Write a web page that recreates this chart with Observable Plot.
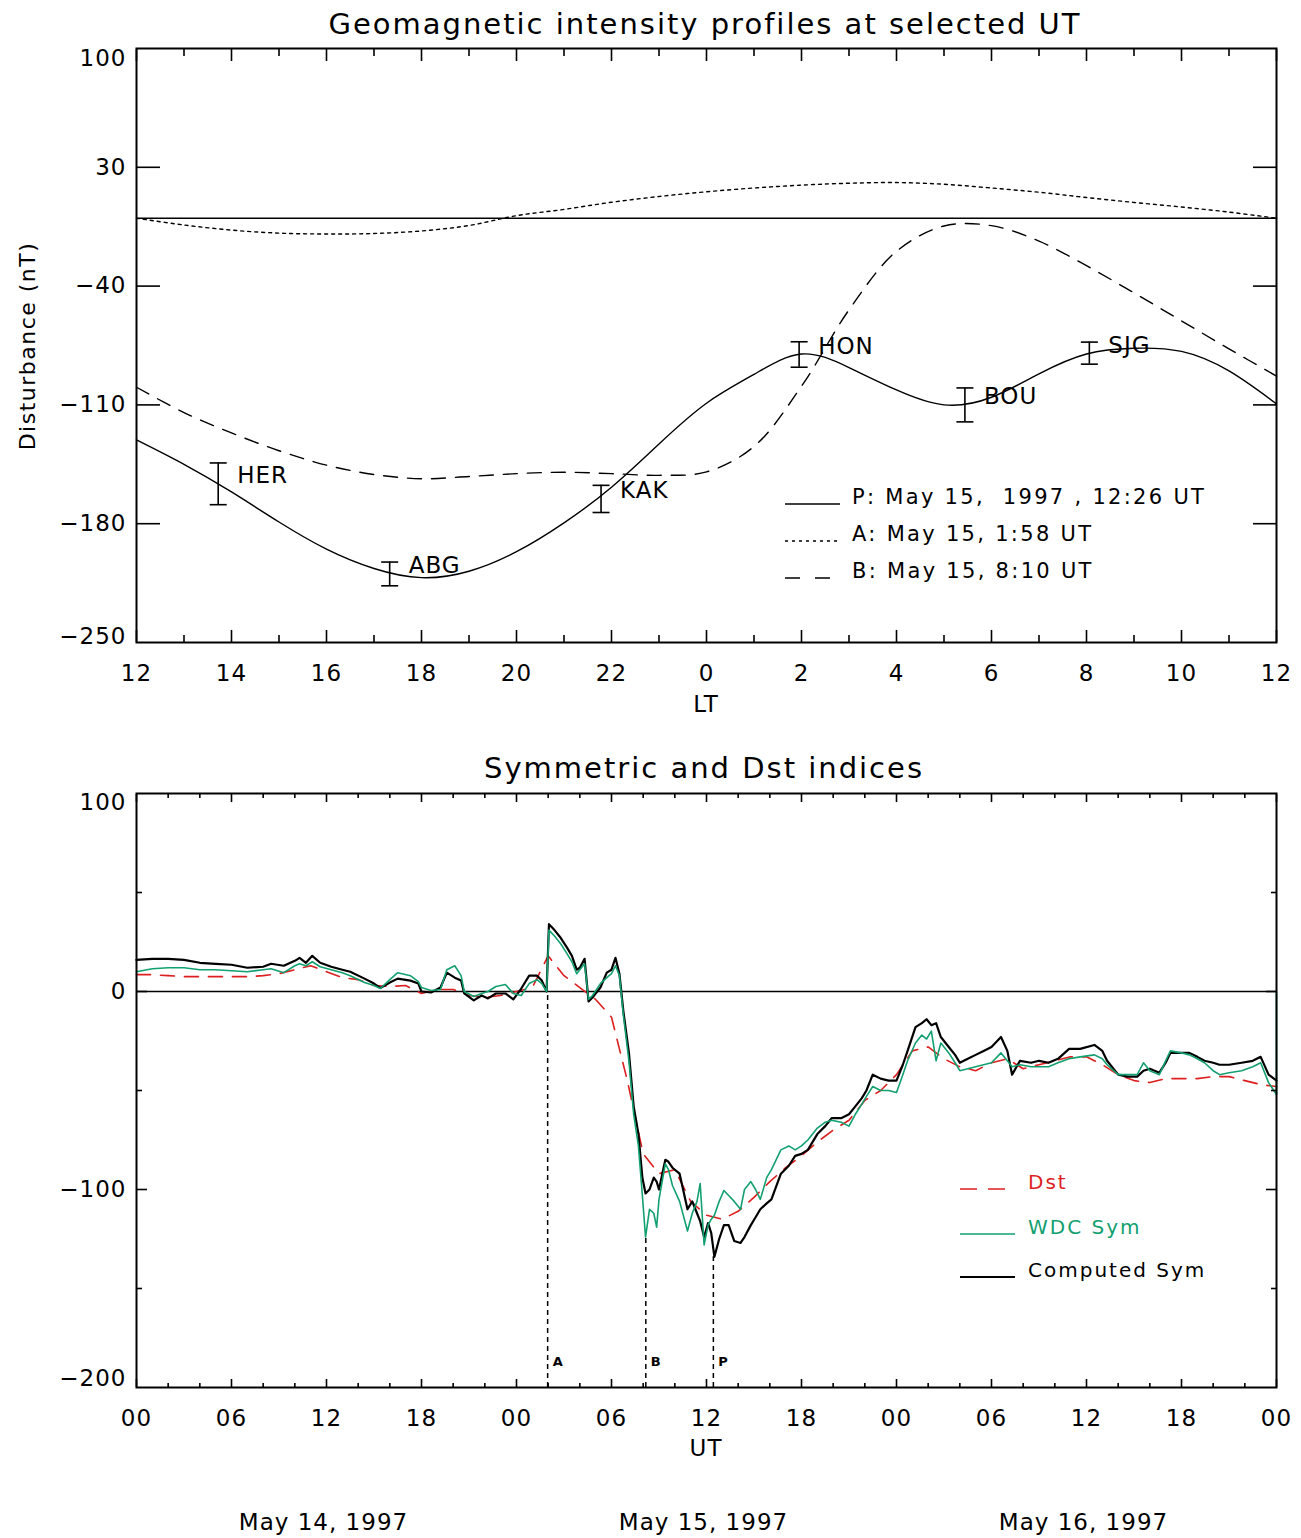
<!DOCTYPE html>
<html><head><meta charset="utf-8">
<script src="https://cdn.jsdelivr.net/npm/d3@7"></script>
<script src="https://cdn.jsdelivr.net/npm/@observablehq/plot@0.6"></script>
<style>
body{margin:0;background:#fff;}
#wrap{position:relative;width:1301px;height:1538px;font-family:"DejaVu Sans",sans-serif;color:#000;overflow:hidden;background:#fff;}
.t{position:absolute;white-space:pre;line-height:1;}
</style></head><body><div id="wrap"></div>
<script>
// ---------- Top panel data (LT hours on an unwrapped 12..36 axis) ----------
const ltHours   = [12,13,14,15,16,17,18,19,20,21,22,23,24,25,26,27,28,29,30,31,32,33,34,35,36];
const profileP  = [-130.6,-145,-161.3,-179,-195,-206.4,-211.8,-208,-196.5,-179.5,-158.5,-133,-109,-92,-80,-88,-101.2,-110,-105.5,-91.7,-80,-76.6,-78.5,-90,-109.4];
const profileA  = [0,-4,-7,-8.8,-9.3,-9,-7.5,-4.3,1.5,5.2,9.4,12.8,15.6,17.8,19.5,20.6,21,20,17.8,15.3,12.2,9.3,6.6,3.6,0];
const profileB  = [-99.6,-114.5,-126.5,-137,-145.5,-151,-153.5,-152.2,-150.5,-149.7,-150.5,-151.5,-149.5,-134.5,-99,-54,-19.5,-4.6,-4.4,-13.5,-28,-44,-60.5,-77,-93];

const stationNames  = ["HER","ABG","KAK","HON","BOU","SJG"];
const stationLT     = [13.72, 17.33, 21.78, 1.95, 5.44, 8.06];
const stationValues = [-156.5, -209.6, -165.4, -80.3, -110, -79.5];
const stationErrors = [12.3, 7, 8, 7.5, 10, 6.5];

const ltTicksMajor = [12,14,16,18,20,22,24,26,28,30,32,34,36];
const ltTicksMinor = [13,15,17,19,21,23,25,27,29,31,33,35];
const yTicksTopInner = [30,-40,-110,-180];
const yTickTopMax = 100, yTickTopMin = -250;

// ---------- Bottom panel data (hours since 1997-05-14 00 UT) ----------
const symHours = [0,1,2,3,4,5,6,7,8,8.5,
  9.3,10,10.3,10.7,11.1,11.6,12.3,13,13.5,14.4,
  15,15.4,16,16.5,17.3,17.8,18,18.6,19.2,19.6,
  20.1,20.5,20.7,21.3,21.8,22.2,22.7,23.3,23.8,24.3,
  24.8,25.3,25.6,25.9,26.05,26.4,26.8,27.2,27.5,27.8,
  28.0,28.3,28.55,28.8,29.3,29.7,30.0,30.25,30.5,30.75,
  31.1,31.4,31.7,31.95,32.15,32.4,32.67,32.85,33.0,33.4,
  33.6,33.85,34.3,34.8,35.1,35.4,35.6,35.85,36.1,36.3,
  36.5,36.8,37.1,37.4,37.75,38.15,38.4,38.8,39.1,39.4,
  39.8,40.1,40.7,41.2,41.6,42.0,42.4,43.0,43.5,43.9,
  44.5,45.0,45.4,45.8,46.1,46.5,47.0,47.5,48.0,48.4,
  48.7,49.2,49.6,49.9,50.2,50.5,50.8,51.3,51.7,52.0,
  52.5,53.0,53.5,54.0,54.6,55.0,55.3,55.8,56.5,57.0,
  57.6,58.2,58.9,59.6,60.5,61.0,61.3,62.0,62.6,63.2,
  63.6,64.0,64.6,65.0,65.3,66.0,66.5,67.0,67.45,68.0,
  68.4,69.0,69.8,70.5,71.0,71.5,72.0];
const computedSym = [16,16.5,16.5,16,14.5,14,13.5,12,12.5,14,
  13,15.5,17,14.5,18,14.5,12.5,11,10,6.5,
  4,1.8,4.5,6.5,5.5,4,0,-0.5,2,9.5,
  7,5.5,-1,-4.5,-2,-3.5,-1,-1,-4,1.5,
  8,8,5.5,0,34,31,27,22,18,11,
  12,16.5,-5,-3,2,9.5,11,17,9,-10,
  -31,-58,-72,-94,-102,-100,-94,-96,-100,-85,
  -86,-89,-92,-110,-106,-112,-116,-124,-117,-122,
  -134,-125,-118,-118,-126,-127,-124,-118,-114,-110,
  -107,-105,-92,-88,-83,-82,-80,-72,-68,-64,
  -64,-62,-58,-54,-50,-42,-44,-45,-45,-37,
  -30,-18,-16,-14,-17,-16,-23,-28,-32,-36,
  -34,-32,-30,-28,-23,-30,-42,-35,-36,-35,
  -36,-34,-29,-29,-27,-30,-35,-42,-43,-43,
  -40,-39,-41,-36,-31,-31,-31,-33,-35,-36,
  -37,-37,-36,-35,-33,-42,-45];
const wdcSym = [10,11.5,12,12,11,11,10.5,10,11,11.5,
  9.5,13,14,13,15,12.5,11,9.5,8,4.5,
  3,1.5,6,9.5,8,5,2,0.5,1,11,
  13,8,0,-2.5,-1,0,2.5,3.5,-1,-2,
  4,6,4,0,31,28,24,19,15,9,
  11,14,-4,-2,4,7,9,13,8,-12,
  -35,-62,-78,-103,-124,-110,-112,-119,-105,-87,
  -90,-98,-106,-121,-112,-106,-97,-128,-118,-115,
  -113,-106,-100.5,-103,-106,-110,-100,-96,-100,-105,
  -94,-90,-80,-78,-80,-78,-75,-69,-66,-65,
  -66,-68,-62,-57,-53,-48,-50,-50,-51,-42,
  -35,-26,-22,-24,-20,-35,-26,-31,-36,-40,
  -39,-38,-37,-36,-31,-35,-38,-37,-38,-38,
  -38,-36,-34,-33,-32,-34,-37,-42,-42,-42,
  -36,-40,-42,-35,-30,-31,-32,-34,-36,-40,
  -42,-41,-40,-38,-36,-46,-52];
const wdcEndHour = 72, wdcEndValue = 0;

const dstHours = [0,1,2,3,4,5,6,7,8,9,10,11,12,13,14,15,16,17,18,19,20,21,22,23,24,25,26,27,28,29,30,31,32,33,34,35,36,37,38,39,40,41,42,43,44,45,46,47,48,49,50,51,52,53,54,55,56,57,58,59,60,61,62,63,64,65,66,67,68,69,70,71,72];
const dstValues = [8.5,8.5,8,7.5,7.5,7.5,7.5,7.5,8,9,
  11,13,10,7,6,3,2.5,3,-1,1,
  1,-2,-3,-2,0,2,18,8,2,-4,
  -13,-45,-82,-92,-90,-106,-113,-115,-111,-104,
  -96,-89,-83,-76,-70,-65,-55,-50,-42,-30,
  -28,-34,-38,-40,-36,-34,-39,-37,-35,-33,
  -33,-37,-42,-45,-46,-44,-44,-44,-43,-43,
  -45,-47,-48];

const utTicksMajor = [0,6,12,18,24,30,36,42,48,54,60,66,72];
const utTicksMinor = [2,4,8,10,14,16,20,22,26,28,32,34,38,40,44,46,50,52,56,58,62,64,68,70];
const yTicksBotInner = [0,-100];
const yTicksBotMinor = [50,-50,-150];
const yTickBotMax = 100, yTickBotMin = -200;

const eventNames  = ["A","B","P"];
const eventTimes  = ["1:58","8:10","12:26"];   // UT on May 15
const eventLevels = [0,-124,-134];

const dayLabels = ["May 14, 1997","May 15, 1997","May 16, 1997"];
const dayNoonHours = [12,36,60];

// ---------- build rows ----------
const rowsP = ltHours.map((h,i)=>({h, v: profileP[i]}));
const rowsA = ltHours.map((h,i)=>({h, v: profileA[i]}));
const rowsB = ltHours.map((h,i)=>({h, v: profileB[i]}));
const stations = stationNames.map((name,i)=>({
  name, h: stationLT[i] < 12 ? stationLT[i] + 24 : stationLT[i],
  v: stationValues[i], lo: stationValues[i]-stationErrors[i], hi: stationValues[i]+stationErrors[i]
}));
const compRows = symHours.map((h,i)=>({h, v: computedSym[i]}));
const wdcRows = symHours.map((h,i)=>({h, v: wdcSym[i]})).concat([{h: wdcEndHour, v: wdcEndValue}]);
const dstRows = dstHours.map((h,i)=>({h, v: dstValues[i]}));
const events = eventNames.map((name,i)=>{
  const [hh, mm] = eventTimes[i].split(":").map(Number);
  return {name, h: 24 + hh + mm/60, level: eventLevels[i], base: yTickBotMin};
});
const days = dayLabels.map((label,i)=>({label, h: dayNoonHours[i]}));

const RED = "#dd1f1f", GREEN = "#12a070";
const fmtLT = d => String(d % 24);
const fmtUT = d => String(d % 24).padStart(2,"0");
const fmtY = d => d < 0 ? "\u2212" + Math.abs(d) : String(d);
const blank = () => "";
const capSymbol = {draw(ctx){ ctx.moveTo(-8.5,0); ctx.lineTo(8.5,0); }};
const baseStyle = {fontFamily:"DejaVu Sans", fontSize:"23px", color:"#000", background:"transparent", letterSpacing:"1px", overflow:"visible"};

const wrap = document.getElementById("wrap");

// ---------- top plot ----------
const topPlot = Plot.plot({
  width: 1301, height: 740,
  marginLeft: 136, marginRight: 25, marginTop: 48, marginBottom: 98,
  style: baseStyle,
  x: {domain: [12, 36]},
  y: {domain: [yTickTopMin, yTickTopMax]},
  marks: [
    Plot.ruleY([0], {strokeWidth: 1.6}),
    Plot.line(rowsA, {x:"h", y:"v", curve:"catmull-rom", stroke:"#000", strokeWidth:1.4, strokeDasharray:"3,4"}),
    Plot.line(rowsB, {x:"h", y:"v", curve:"catmull-rom", stroke:"#000", strokeWidth:1.4, strokeDasharray:"14,10"}),
    Plot.line(rowsP, {x:"h", y:"v", curve:"natural", stroke:"#000", strokeWidth:1.4}),
    Plot.ruleX(stations, {x:"h", y1:"lo", y2:"hi", strokeWidth:1.6}),
    Plot.dot(stations, {x:"h", y:"lo", symbol: capSymbol, fill:"none", stroke:"#000", strokeWidth:1.6}),
    Plot.dot(stations, {x:"h", y:"hi", symbol: capSymbol, fill:"none", stroke:"#000", strokeWidth:1.6}),
    Plot.text(stations, {x:"h", y:"v", text:"name", dx:19, dy:-8, textAnchor:"start", fontSize:23}),
    Plot.axisX(ltTicksMajor, {anchor:"bottom", tickSize:-12, tickPadding:34, tickFormat: fmtLT, label:null, strokeWidth:1.6}),
    Plot.axisX(ltTicksMinor, {anchor:"bottom", tickSize:-7, tickFormat: blank, label:null, strokeWidth:1.6}),
    Plot.axisX(ltTicksMajor, {anchor:"top", tickSize:-12, tickFormat: blank, label:null, strokeWidth:1.6}),
    Plot.axisX(ltTicksMinor, {anchor:"top", tickSize:-7, tickFormat: blank, label:null, strokeWidth:1.6}),
    Plot.axisY(yTicksTopInner, {anchor:"left", tickSize:-24, tickPadding:34, tickFormat: fmtY, label:null, strokeWidth:1.6}),
    Plot.axisY([yTickTopMax], {anchor:"left", tickSize:0, tickPadding:10, dy:10, tickFormat: fmtY, label:null}),
    Plot.axisY([yTickTopMin], {anchor:"left", tickSize:0, tickPadding:10, dy:-6, tickFormat: fmtY, label:null}),
    Plot.axisY(yTicksTopInner, {anchor:"right", tickSize:-24, tickFormat: blank, label:null, strokeWidth:1.6}),
    Plot.frame({strokeWidth: 2})
  ]
});
topPlot.style.position = "absolute"; topPlot.style.left = "0px"; topPlot.style.top = "0px";
wrap.appendChild(topPlot);

// ---------- bottom plot ----------
const botPlot = Plot.plot({
  width: 1301, height: 798,
  marginLeft: 136, marginRight: 25, marginTop: 53, marginBottom: 151,
  style: baseStyle,
  x: {domain: [0, 72]},
  y: {domain: [yTickBotMin, yTickBotMax]},
  marks: [
    Plot.ruleY([0], {strokeWidth: 1.6}),
    Plot.ruleX(events, {x:"h", y1:"base", y2:"level", strokeWidth:1.5, strokeDasharray:"5,4"}),
    Plot.text(events, {x:"h", y:"base", text:"name", dx:5, dy:-26, textAnchor:"start", fontSize:13, fontWeight:"bold"}),
    Plot.line(dstRows, {x:"h", y:"v", stroke: RED, strokeWidth:1.6, strokeDasharray:"14,10"}),
    Plot.line(compRows, {x:"h", y:"v", stroke:"#000", strokeWidth:2.2}),
    Plot.line(wdcRows, {x:"h", y:"v", stroke: GREEN, strokeWidth:1.6}),
    Plot.text(days, {x:"h", text:"label", frameAnchor:"bottom", dy:142, dx:-3, fontSize:23}),
    Plot.axisX(utTicksMajor, {anchor:"bottom", tickSize:-8, tickPadding:30, tickFormat: fmtUT, label:null, strokeWidth:1.6}),
    Plot.axisX(utTicksMinor, {anchor:"bottom", tickSize:-4, tickFormat: blank, label:null, strokeWidth:1.6}),
    Plot.axisX(utTicksMajor, {anchor:"top", tickSize:-8, tickFormat: blank, label:null, strokeWidth:1.6}),
    Plot.axisX(utTicksMinor, {anchor:"top", tickSize:-4, tickFormat: blank, label:null, strokeWidth:1.6}),
    Plot.axisY(yTicksBotInner, {anchor:"left", tickSize:-11, tickPadding:21, tickFormat: fmtY, label:null, strokeWidth:1.6}),
    Plot.axisY(yTicksBotMinor, {anchor:"left", tickSize:-6, tickFormat: blank, label:null, strokeWidth:1.6}),
    Plot.axisY([yTickBotMax], {anchor:"left", tickSize:0, tickPadding:10, dy:9, tickFormat: fmtY, label:null}),
    Plot.axisY([yTickBotMin], {anchor:"left", tickSize:0, tickPadding:10, dy:-9, tickFormat: fmtY, label:null}),
    Plot.axisY(yTicksBotInner, {anchor:"right", tickSize:-11, tickFormat: blank, label:null, strokeWidth:1.6}),
    Plot.axisY(yTicksBotMinor, {anchor:"right", tickSize:-6, tickFormat: blank, label:null, strokeWidth:1.6}),
    Plot.frame({strokeWidth: 2})
  ]
});
botPlot.style.position = "absolute"; botPlot.style.left = "0px"; botPlot.style.top = "740px";
wrap.appendChild(botPlot);

// ---------- HTML text ----------
function addText(txt, x, y, size, opts = {}) {
  const d = document.createElement("div");
  d.className = "t";
  d.textContent = txt;
  d.style.left = x + "px"; d.style.top = y + "px"; d.style.fontSize = size + "px";
  let tr = opts.start ? "translate(0,-50%)" : "translate(-50%,-50%)";
  if (opts.rotate) tr += " rotate(-90deg)";
  d.style.transform = tr;
  if (opts.ls != null) d.style.letterSpacing = opts.ls + "px";
  if (opts.color) d.style.color = opts.color;
  wrap.appendChild(d);
}
addText("Geomagnetic intensity profiles at selected UT", 705, 24, 29, {ls: 2});
addText("Symmetric and Dst indices", 704, 768, 29, {ls: 2});
addText("LT", 706, 704, 23, {ls: 1});
addText("UT", 706, 1448, 23, {ls: 1});
addText("Disturbance (nT)", 28, 346, 22, {ls: 1.5, rotate: true});

// legends
const topLegend = [
  {text: "P: May 15,  1997 , 12:26 UT", dash: null, y: 497},
  {text: "A: May 15, 1:58 UT", dash: "3,4", y: 534},
  {text: "B: May 15, 8:10 UT", dash: "15,15", y: 571}
];
const botLegend = [
  {text: "Dst", color: RED, dash: "17,11", y: 1182, w: 1.6},
  {text: "WDC Sym", color: GREEN, dash: null, y: 1227, w: 1.6},
  {text: "Computed Sym", color: "#000", dash: null, y: 1270, w: 2}
];
const NS = "http://www.w3.org/2000/svg";
const ov = document.createElementNS(NS, "svg");
ov.setAttribute("width", 1301); ov.setAttribute("height", 1538);
ov.style.position = "absolute"; ov.style.left = "0"; ov.style.top = "0";
function seg(x1, x2, y, color, dash, w) {
  const l = document.createElementNS(NS, "line");
  l.setAttribute("x1", x1); l.setAttribute("x2", x2); l.setAttribute("y1", y); l.setAttribute("y2", y);
  l.setAttribute("stroke", color); l.setAttribute("stroke-width", w);
  if (dash) l.setAttribute("stroke-dasharray", dash);
  ov.appendChild(l);
}
topLegend.forEach(d => {
  seg(785, d.dash === "15,15" ? 830 : 840, d.y + 7, "#000", d.dash, 1.4);
  addText(d.text, 852, d.y, 21, {start: true, ls: 2.3});
});
botLegend.forEach(d => {
  seg(960, d.dash ? 1005 : 1015, d.y + 7, d.color, d.dash, d.w);
  addText(d.text, 1028, d.y, 20, {start: true, ls: 2, color: d.color});
});
wrap.appendChild(ov);
</script></body></html>
